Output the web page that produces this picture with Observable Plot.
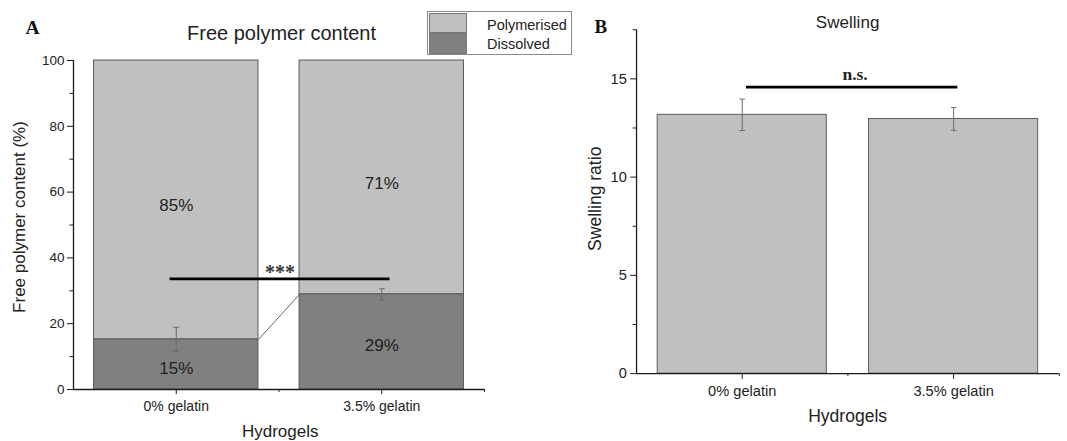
<!DOCTYPE html>
<html>
<head>
<meta charset="utf-8">
<script src="https://cdn.jsdelivr.net/npm/d3@7"></script>
<script src="https://cdn.jsdelivr.net/npm/@observablehq/plot@0.6"></script>
<style>
html, body { margin: 0; padding: 0; background: #fff; }
#wrap { position: relative; width: 1067px; height: 441px; overflow: hidden; font-family: "Liberation Sans", Arial, sans-serif; color: #222; background: #fff; }
#panelA { position: absolute; left: 0; top: 0; }
#panelB { position: absolute; left: 560px; top: 0; }
#legend { position: absolute; left: 427px; top: 11px; width: 145px; height: 44px; border: 1px solid #8a8a8a; box-sizing: border-box; background: #fff; }
#legend .sw { position: absolute; left: 1px; width: 38px; box-sizing: border-box; border: 1px solid #777; }
#legend .lab { position: absolute; left: 59px; font-size: 14.5px; line-height: 16px; color: #222; white-space: nowrap; }
</style>
</head>
<body>
<div id="wrap">
  <div id="panelA"></div>
  <div id="panelB"></div>
  <div id="legend"></div>
</div>
<script>
// ---------- data ----------
const groups = ["0% gelatin", "3.5% gelatin"];
const seriesNames = ["Polymerised", "Dissolved"];
const seriesColors = ["#c0c0c0", "#808080"];
const dissolved = [15.2, 28.9];
const dissolvedErr = [3.7, 1.7];
const polymerised = [84.8, 71.1];
const swelling = [13.17, 12.96];
const swellingErr = [0.8, 0.58];
const yTicksA = [0, 20, 40, 60, 80, 100];
const yMinorA = [10, 30, 50, 70, 90];
const yTicksB = [0, 5, 10, 15];
const yMinorB = [2.5, 7.5, 12.5, 17.5];
const sigA = [{from: -0.03, to: 1.04, y: 33.6, label: "***"}];
const sigB = [{from: 0.02, to: 1.02, y: 14.58, label: "n.s."}];

const tableA = groups.map((g, i) => ({i, g, dissolved: dissolved[i], err: dissolvedErr[i], polymerised: polymerised[i]}));
const tableB = groups.map((g, i) => ({i, g, value: swelling[i], err: swellingErr[i]}));

const SANS = '"Liberation Sans", Arial, sans-serif';
const SERIF = '"Liberation Serif", "Times New Roman", serif';
const AXIS = "#1a1a1a";
const EDGE = "#5a5a5a";
const ERR = "#6a6a6a";
const M = {lineAnchor: "middle", textAnchor: "middle"};

// ---------- Panel A ----------
const chartA = Plot.plot({
  width: 560, height: 441,
  marginLeft: 73, marginRight: 76, marginTop: 60, marginBottom: 52,
  style: {fontFamily: SANS, color: "#222", background: "transparent", overflow: "visible"},
  x: {domain: [-0.5, 1.5]},
  y: {domain: [0, 100]},
  marks: [
    Plot.rectY(tableA, {x1: d => d.i - 0.4, x2: d => d.i + 0.4, y1: d => d.dissolved, y2: d => d.dissolved + d.polymerised, fill: seriesColors[0], stroke: EDGE, strokeWidth: 1}),
    Plot.rectY(tableA, {x1: d => d.i - 0.4, x2: d => d.i + 0.4, y1: 0, y2: d => d.dissolved, fill: seriesColors[1], stroke: EDGE, strokeWidth: 1}),
    Plot.link([{a: 0, b: 1}], {x1: d => d.a + 0.4, y1: d => dissolved[d.a], x2: d => d.b - 0.4, y2: d => dissolved[d.b], stroke: "#666", strokeWidth: 1}),
    Plot.link(tableA, {x1: "i", x2: "i", y1: d => d.dissolved - d.err, y2: d => d.dissolved + d.err, stroke: ERR, strokeWidth: 1, markerStart: "tick", markerEnd: "tick"}),
    Plot.text(tableA, {...M, x: "i", y: d => d.dissolved + d.polymerised / 2, text: d => Math.round(d.polymerised) + "%", dy: 6, fontSize: 17, fill: "#222"}),
    Plot.text(tableA, {...M, x: "i", y: d => d.dissolved / 2, text: d => Math.round(d.dissolved) + "%", dy: 4, fontSize: 17, fill: "#222"}),
    Plot.ruleY(sigA, {y: "y", x1: "from", x2: "to", stroke: "#000", strokeWidth: 2.7}),
    Plot.text(sigA, {...M, x: d => (d.from + d.to) / 2, y: "y", text: "label", dy: -6.6, fontFamily: SERIF, fontWeight: "bold", fontSize: 20, fill: "#333"}),
    Plot.ruleX([-0.5], {y1: 0, y2: 100, stroke: AXIS, strokeWidth: 1.3}),
    Plot.ruleY([0], {x1: -0.5, x2: 1.5, stroke: AXIS, strokeWidth: 1.3}),
    Plot.axisY(yTicksA, {tickSize: 6, tickPadding: 3, fontSize: 13.5, label: null, stroke: AXIS}),
    Plot.axisY(yMinorA, {tickSize: 3.5, tickFormat: () => "", label: null, stroke: AXIS}),
    Plot.axisX([0, 1], {tickFormat: i => groups[i], tickSize: 5, tickPadding: 6.5, fontSize: 14, label: null, stroke: AXIS}),
    Plot.axisX([0.5, 1.5], {tickSize: 3, tickFormat: () => "", label: null, stroke: AXIS}),
    Plot.text(["A"], {text: d => d, frameAnchor: "top-left", lineAnchor: "middle", textAnchor: "start", dx: -48, dy: -32.3, fontFamily: SERIF, fontWeight: "bold", fontSize: 19.5, fill: "#111"}),
    Plot.text(["Free polymer content"], {...M, text: d => d, frameAnchor: "top", dx: 2.5, dy: -27, fontSize: 20, fill: "#222"}),
    Plot.text(["Free polymer content (%)"], {...M, text: d => d, frameAnchor: "left", rotate: -90, dx: -53.6, dy: -8, fontSize: 17, fill: "#222"}),
    Plot.text(["Hydrogels"], {...M, text: d => d, frameAnchor: "bottom", dx: 1.2, dy: 42, fontSize: 17, fill: "#222"})
  ]
});
document.getElementById("panelA").appendChild(chartA);

// ---------- Panel B ----------
const chartB = Plot.plot({
  width: 520, height: 441,
  marginLeft: 78, marginRight: 8.4, marginTop: 30, marginBottom: 58.3,
  style: {fontFamily: SANS, color: "#222", background: "transparent", overflow: "visible"},
  x: {domain: [-0.5, 1.5]},
  y: {domain: [0, 17.5]},
  marks: [
    Plot.rectY(tableB, {x1: d => d.i - 0.4, x2: d => d.i + 0.4, y1: 0, y2: "value", fill: seriesColors[0], stroke: EDGE, strokeWidth: 1}),
    Plot.link(tableB, {x1: "i", x2: "i", y1: d => d.value - d.err, y2: d => d.value + d.err, stroke: ERR, strokeWidth: 1, markerStart: "tick", markerEnd: "tick"}),
    Plot.ruleY(sigB, {y: "y", x1: "from", x2: "to", stroke: "#000", strokeWidth: 2.7}),
    Plot.text(sigB, {...M, x: d => (d.from + d.to) / 2, y: "y", text: "label", dx: 3, dy: -12.7, fontFamily: SERIF, fontWeight: "bold", fontSize: 18, fill: "#222"}),
    Plot.ruleX([-0.5], {y1: 0, y2: 17.5, stroke: AXIS, strokeWidth: 1.3}),
    Plot.ruleY([0], {x1: -0.5, x2: 1.5, stroke: AXIS, strokeWidth: 1.3}),
    Plot.axisY(yTicksB, {tickSize: 6, tickPadding: 4, fontSize: 15, label: null, stroke: AXIS}),
    Plot.axisY(yMinorB, {tickSize: 3.5, tickFormat: () => "", label: null, stroke: AXIS}),
    Plot.axisX([0, 1], {tickFormat: i => groups[i], tickSize: 6, tickPadding: 6, fontSize: 15, label: null, stroke: AXIS}),
    Plot.axisX([0.5, 1.5], {tickSize: 3, tickFormat: () => "", label: null, stroke: AXIS}),
    Plot.text(["B"], {text: d => d, frameAnchor: "top-left", lineAnchor: "middle", textAnchor: "start", dx: -43, dy: -2.5, fontFamily: SERIF, fontWeight: "bold", fontSize: 19.5, fill: "#111"}),
    Plot.text(["Swelling"], {...M, text: d => d, frameAnchor: "top", dx: -0.3, dy: -7.7, fontSize: 17.5, fill: "#222"}),
    Plot.text(["Swelling ratio"], {...M, text: d => d, frameAnchor: "left", rotate: -90, dx: -42.5, dy: -3, fontSize: 18, fill: "#222"}),
    Plot.text(["Hydrogels"], {...M, text: d => d, frameAnchor: "bottom", dx: -0.3, dy: 43.8, fontSize: 18, fill: "#222"})
  ]
});
document.getElementById("panelB").appendChild(chartB);

// ---------- Legend ----------
const legend = document.getElementById("legend");
const swTops = [1, 21];
const swHeights = [20, 21];
const labTops = [5, 24];
seriesNames.forEach((name, k) => {
  const sw = document.createElement("div");
  sw.className = "sw";
  sw.style.top = swTops[k] + "px";
  sw.style.height = swHeights[k] + "px";
  sw.style.background = seriesColors[k];
  legend.appendChild(sw);
  const lab = document.createElement("div");
  lab.className = "lab";
  lab.style.top = labTops[k] + "px";
  lab.textContent = name;
  legend.appendChild(lab);
});
</script>
</body>
</html>
